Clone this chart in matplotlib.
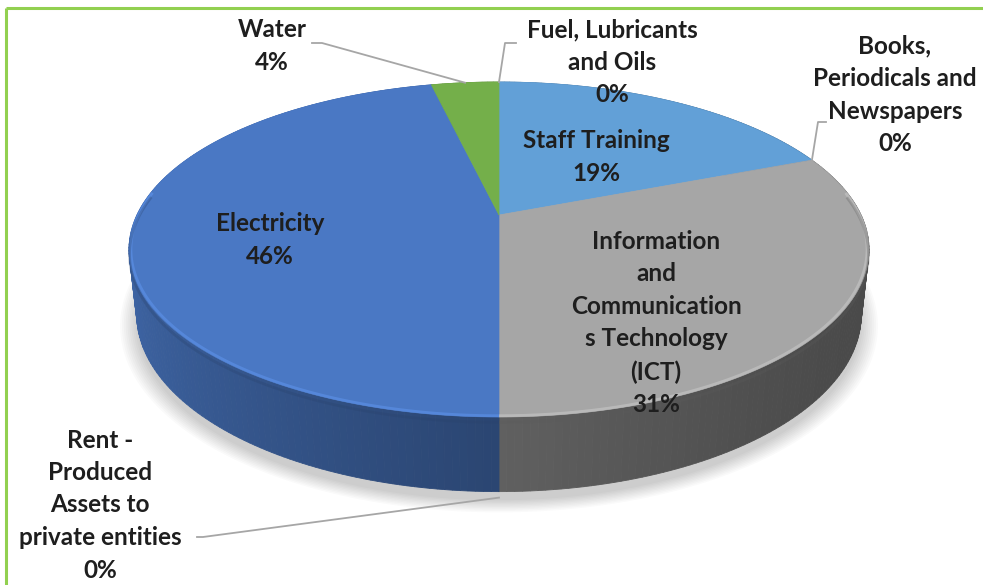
import numpy as np
import matplotlib
matplotlib.use("Agg")
import matplotlib.pyplot as plt
from matplotlib.patches import Polygon

# ---------------- data ----------------
categories = ["Staff Training", "Books, Periodicals and Newspapers",
              "Information and Communications Technology (ICT)",
              "Rent - Produced Assets to private entities",
              "Electricity", "Water", "Fuel, Lubricants and Oils"]
label_texts = ["Staff Training", "Books,\nPeriodicals and\nNewspapers",
               "Information\nand\nCommunication\ns Technology\n(ICT)",
               "Rent -\nProduced\nAssets to\nprivate entities",
               "Electricity", "Water", "Fuel, Lubricants\nand Oils"]
values = [19.0, 0.0, 31.0, 0.0, 46.4, 3.6, 0.0]

# ---------------- styles ----------------
top_colors = ["#62A0D7", "#ED7D31", "#A6A6A6", "#FFC000", "#4A78C4", "#74AF4A", "#264478"]
label_pos = [(596, 157), (895, 95), (656, 323), (100, 505), (270, 240), (272, 46), (612, 62)]
label_leader = [None, ((826, 122), (818, 122)), None, ((197, 537), (203, 537)),
                None, ((312, 43), (322, 43)), ((516, 43), (505, 43))]

W, H = 983, 585
fig = plt.figure(figsize=(W / 100, H / 100), dpi=100)
ax = fig.add_axes([0, 0, 1, 1])
ax.set_xlim(0, W)
ax.set_ylim(H, 0)
ax.axis("off")

# perspective projection of a unit-radius disc
CX, CY = 499, 215
D, F = 4.35, 1575.0
st, ct = 0.443, 0.896
THK = 0.20


def proj(r, phi, z):
    X = r * np.cos(phi)
    Y = r * np.sin(phi)
    w = D + Y * ct - z * st
    return CX + F * X / w, CY - F * (Y * st + z * ct) / w


def rgb(h):
    h = h.lstrip("#")
    return np.array([int(h[i:i + 2], 16) / 255 for i in (0, 2, 4)])


total = sum(values)
cum = np.concatenate([[0], np.cumsum(values)])
starts = np.pi / 2 - 2 * np.pi * cum[:-1] / total
ends = np.pi / 2 - 2 * np.pi * cum[1:] / total

# soft shadow
ph = np.linspace(0, 2 * np.pi, 400)
for sc in np.linspace(1.045, 1.0, 10):
    xs, ys = proj(sc, ph, -THK - 0.01)
    ax.add_patch(Polygon(np.c_[xs, ys + 5], closed=True, fc="black", ec="none",
                         alpha=0.018, zorder=1))

# side strips
strips = []
for i, v in enumerate(values):
    if v <= 0:
        continue
    n = max(2, int(abs(ends[i] - starts[i]) / np.radians(1.0)))
    phs = np.linspace(starts[i], ends[i], n + 1)
    for a, b in zip(phs[:-1], phs[1:]):
        m = 0.5 * (a + b)
        shade = 0.66 - 0.2 * np.cos(m) + 0.08 * np.sin(m)
        col = np.clip(rgb(top_colors[i]) * shade, 0, 1)
        x1, y1 = proj(1, a, 0)
        x2, y2 = proj(1, b, 0)
        x3, y3 = proj(1, b, -THK)
        x4, y4 = proj(1, a, -THK)
        strips.append((np.sin(m), [(x1, y1), (x2, y2), (x3, y3), (x4, y4)], col))
strips.sort(key=lambda s: -s[0])
for _, pts, col in strips:
    ax.add_patch(Polygon(pts, closed=True, fc=col, ec=col, lw=0.6, zorder=2))

# top face
cx0, cy0 = proj(0, 0, 0)
for i, v in enumerate(values):
    if v <= 0:
        continue
    n = max(2, int(abs(ends[i] - starts[i]) / np.radians(0.5)))
    phs = np.linspace(starts[i], ends[i], n + 1)
    xs, ys = proj(1, phs, 0)
    pts = np.vstack([[cx0, cy0], np.c_[xs, ys]])
    ax.add_patch(Polygon(pts, closed=True, fc=top_colors[i], ec=top_colors[i], lw=0.5, zorder=3))

# bevel highlight on front rim
for i, v in enumerate(values):
    if v <= 0:
        continue
    phs = np.linspace(starts[i], ends[i], 200)
    phs = phs[np.sin(phs) < 0.15]
    if len(phs) < 2:
        continue
    xs, ys = proj(0.995, phs, 0)
    light = np.clip(rgb(top_colors[i]) * 1.15 + 0.03, 0, 1)
    ax.plot(xs, ys, color=light, lw=2.0, alpha=0.6, zorder=4, solid_capstyle="butt")
    xs, ys = proj(1.0, phs, -0.014)
    dark = np.clip(rgb(top_colors[i]) * 0.55, 0, 1)
    ax.plot(xs, ys, color=dark, lw=2.0, alpha=0.3, zorder=4, solid_capstyle="butt")

# labels
font = dict(family=["Lato", "DejaVu Sans"], weight="bold", fontsize=17.5, color="#1e1e1e",
            ha="center", va="center", linespacing=1.5, zorder=6)
for i, v in enumerate(values):
    pct = f"{round(100 * v / total):.0f}%"
    x, y = label_pos[i]
    ax.text(x, y, label_texts[i] + "\n" + pct, **font)
    if label_leader[i] is not None:
        mid = 0.5 * (starts[i] + ends[i])
        if categories[i].startswith("Rent"):
            px, py = proj(1, mid, -THK)
            py += 6
        else:
            px, py = proj(1, mid, 0)
        (ax_, ay_), (bx, by) = label_leader[i]
        ax.plot([ax_, bx, px], [ay_, by, py], color="#A6A6A6", lw=1.3, zorder=5)

# green frame
ax.plot([6, W], [8, 8], color="#92D050", lw=2.2, zorder=7, solid_capstyle="butt")
ax.plot([6, 6], [8, H], color="#92D050", lw=2.2, zorder=7, solid_capstyle="butt")

fig.savefig("out.png", dpi=100)
